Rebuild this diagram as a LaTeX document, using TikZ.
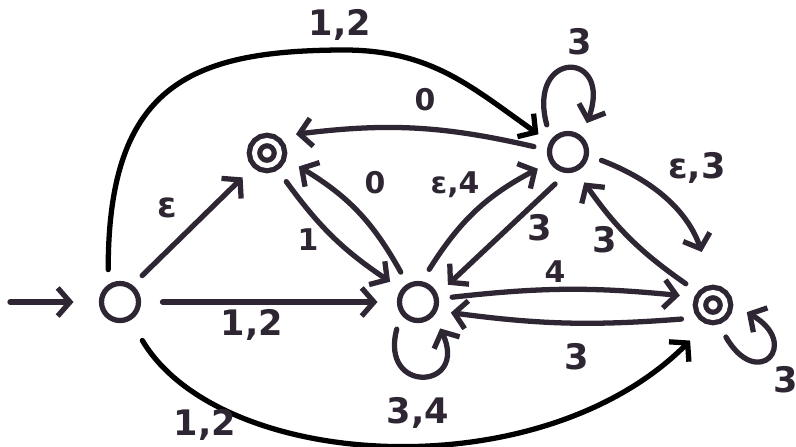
\documentclass[tikz,border=0pt]{standalone}
\usepackage{fontspec}
\setmainfont{DejaVu Sans}
\usepackage{tikz}
\usetikzlibrary{arrows.meta}
\definecolor{inkgray}{RGB}{46, 38, 50}

\begin{document}
\begin{tikzpicture}[line width=1.5pt, color=inkgray,
    every node/.style={font=\bfseries\fontsize{10}{12}\selectfont},
    small/.style={font=\bfseries\fontsize{8.5}{10}\selectfont},
    state/.style={circle, draw, minimum size=0.37cm, inner sep=0pt, outer sep=0.16cm},
    accepting/.style={circle, draw, double, double distance=0.05cm, minimum size=0.25cm, inner sep=0pt, outer sep=0.22cm},
    trans/.style={-{Straight Barb[length=3.5pt,width=8pt]}, line cap=round}]
  \useasboundingbox (0,0) rectangle (7.96,4.46);
  \node[state]     (q0) at (1.20,1.44) {};
  \node[accepting] (q1) at (2.67,2.93) {};
  \node[state]     (q2) at (4.18,1.44) {};
  \node[state]     (q3) at (5.68,2.94) {};
  \node[accepting] (q4) at (7.13,1.41) {};
  \coordinate (start) at (0.10,1.44);
  % transitions
  \draw[trans, shorten >=0.12cm] (start) -- (q0.180);
  \draw[trans] (q0.50) -- (q1.225);
  \draw[trans, shorten <=0.08cm, shorten >=0.06cm] (q0.0) -- (q2.180);
  \draw[trans, draw=black] (q0.110) .. controls (1.08,3.6) and (1.9,3.95) .. (3.4,3.96)
    .. controls (4.3,3.97) and (4.7,3.6) .. (q3.149);
  \draw[trans, draw=black, shorten <=0.1cm, shorten >=0.08cm] (q0.-60) .. controls (2.2,-0.25) and (5.4,-0.45) .. (q4.240);
  \draw[trans] (q1.-56) to[bend right=10] (q2.144);
  \draw[trans] (q2.120) to[bend right=15] (q1.-23);
  \draw[trans] (q3.171) to[bend right=10] (q1.33);
  \draw[trans] (q3.128) to[out=105,in=70,looseness=5] (q3.57);
  \draw[trans] (q2.71) to[bend left=15] (q3.209);
  \draw[trans] (q3.248) -- (q2.30);
  \draw[trans, shorten >=0.2cm] (q3.-14) to[bend left=25] (q4.98);
  \draw[trans] (q4.142) to[bend left=10] (q3.-62);
  \draw[trans] (q2.8) to[bend left=6] (q4.164);
  \draw[trans] (q4.204) to[bend left=6] (q2.-18);
  \draw[trans] (q2.232) to[out=255,in=295,looseness=4] (q2.310);
  \draw[trans] (q4.-68) to[out=-60,in=-30,looseness=5] (q4.-12);
  % labels
  \node (l03top) at (3.40,4.21) {1,2};
  \node (l01) at (1.67,2.38) {ε};
  \node (l02) at (2.52,1.21) {1,2};
  \node (l04) at (2.05,0.21) {1,2};
  \node[small] (l12) at (3.08,2.06) {1};
  \node[small] (l21) at (3.75,2.63) {0};
  \node[small] (l31) at (4.25,3.46) {0};
  \node (l33) at (5.80,4.04) {3};
  \node[small] (l23) at (4.55,2.61) {ε,4};
  \node (l32) at (5.40,2.18) {3};
  \node (l34) at (6.97,2.78) {ε,3};
  \node (l43) at (6.05,2.06) {3};
  \node[small] (l24) at (5.55,1.74) {4};
  \node (l42) at (5.77,0.89) {3};
  \node (l22) at (4.18,0.33) {3,4};
  \node (l44) at (7.86,0.66) {3};
\end{tikzpicture}
\end{document}
